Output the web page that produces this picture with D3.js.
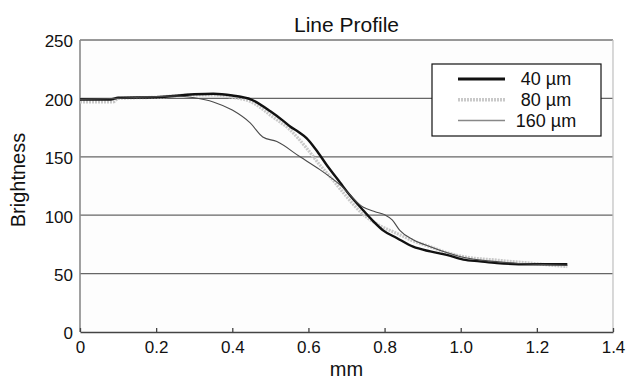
<!DOCTYPE html>
<html>
<head>
<meta charset="utf-8">
<script src="https://cdn.jsdelivr.net/npm/d3@7"></script>
<style>
  body { margin: 0; background: #fff; }
  text { font-family: "Liberation Sans", Arial, sans-serif; fill: #111; }
</style>
</head>
<body>
<div id="app"></div>
<script>
// values
var xTicks = [0, 0.2, 0.4, 0.6, 0.8, 1.0, 1.2, 1.4];
var xTickLabels = ["0", "0.2", "0.4", "0.6", "0.8", "1.0", "1.2", "1.4"];
var yTicks = [0, 50, 100, 150, 200, 250];

var mm40 = [0, 0.08, 0.1, 0.2, 0.3, 0.35, 0.4, 0.45, 0.5, 0.533, 0.552, 0.575, 0.595, 0.62, 0.648, 0.683, 0.709, 0.743, 0.77, 0.796, 0.832, 0.875, 0.92, 0.963, 1.007, 1.05, 1.095, 1.18, 1.28];
var bright40 = [199, 199, 200.5, 201, 203.5, 204, 202.5, 199, 189, 181, 176, 171, 166, 156, 143, 128, 117, 104.5, 95, 87, 80.5, 73, 69, 66, 62, 60.5, 59, 58, 58];

var mm80 = [0, 0.087, 0.1, 0.2, 0.3, 0.35, 0.4, 0.45, 0.507, 0.552, 0.595, 0.63, 0.657, 0.7, 0.743, 0.788, 0.832, 0.875, 0.92, 0.963, 1.007, 1.095, 1.18, 1.28];
var bright80 = [197, 197, 200, 201, 203, 203, 201, 197, 184, 173, 157.5, 143, 133, 116, 101, 91, 84.5, 78, 73, 68, 64.5, 61.5, 59, 56];

var mm160 = [0, 0.1, 0.2, 0.25, 0.3, 0.35, 0.4, 0.447, 0.48, 0.517, 0.578, 0.63, 0.683, 0.743, 0.775, 0.8, 0.82, 0.84, 0.875, 0.92, 0.963, 1.0, 1.1, 1.2, 1.28];
var bright160 = [199, 200, 201.5, 202, 200.5, 197, 190, 179, 167, 163, 150, 139, 126, 107, 103, 100.5, 96, 87, 79, 73, 68, 64.5, 60, 58, 57];

var seriesNames = ["40 \u00b5m", "80 \u00b5m", "160 \u00b5m"];

var margin = {top: 40, right: 13, bottom: 49, left: 80},
    width = 626 - margin.left - margin.right,
    height = 381 - margin.top - margin.bottom;

var x = d3.scaleLinear().domain([0, 1.4]).range([0, width]);
var y = d3.scaleLinear().domain([0, 250]).range([height, 0]);

var svg = d3.select("#app").append("svg")
    .attr("width", 626)
    .attr("height", 381);

var g = svg.append("g")
    .attr("transform", "translate(" + margin.left + "," + margin.top + ")");

g.append("rect")
    .attr("width", width)
    .attr("height", height)
    .attr("fill", "#fdfdfd");

// horizontal grid
g.append("g")
  .selectAll("line")
  .data(yTicks.filter(function(d) { return d > 0 && d < 250; }))
  .join("line")
    .attr("x1", 0)
    .attr("x2", width)
    .attr("y1", function(d) { return y(d); })
    .attr("y2", function(d) { return y(d); })
    .attr("stroke", "#666")
    .attr("stroke-width", 1.3);

// frame
g.append("line").attr("x1", 0).attr("x2", width).attr("y1", 0).attr("y2", 0)
    .attr("stroke", "#333").attr("stroke-width", 1);
g.append("line").attr("x1", width).attr("x2", width).attr("y1", 0).attr("y2", height)
    .attr("stroke", "#c4c4c4").attr("stroke-width", 1.3);
g.append("line").attr("x1", 0).attr("x2", 0).attr("y1", 0).attr("y2", height)
    .attr("stroke", "#8a8a8a").attr("stroke-width", 1.6);

// y axis labels
var yAxis = g.append("g")
    .call(d3.axisLeft(y).tickValues(yTicks).tickSize(0).tickPadding(7));
yAxis.select(".domain").remove();
yAxis.selectAll("text")
    .attr("font-size", 17)
    .attr("dy", "0.4em")
    .attr("font-family", "Liberation Sans, Arial, sans-serif");

// x axis
var xAxis = g.append("g")
    .attr("transform", "translate(0," + height + ")")
    .call(d3.axisBottom(x)
        .tickValues(xTicks)
        .tickSizeInner(-4)
        .tickSizeOuter(0)
        .tickPadding(9)
        .tickFormat(function(d, i) { return xTickLabels[i]; }));
xAxis.select(".domain").attr("stroke", "#444").attr("stroke-width", 1.3);
xAxis.selectAll(".tick line").attr("stroke", "#444").attr("stroke-width", 1.3);
xAxis.selectAll("text")
    .attr("font-size", 17)
    .attr("font-family", "Liberation Sans, Arial, sans-serif");

// lines
var line = d3.line()
    .x(function(d) { return x(d[0]); })
    .y(function(d) { return y(d[1]); })
    .curve(d3.curveMonotoneX);

var series = [
  {name: seriesNames[2], pts: d3.zip(mm160, bright160), stroke: "#4a4a4a", w: 1.1, dash: null},
  {name: seriesNames[1], pts: d3.zip(mm80, bright80), stroke: "#c9c9c9", w: 3.2, dash: "2,1"},
  {name: seriesNames[0], pts: d3.zip(mm40, bright40), stroke: "#111", w: 2.4, dash: null}
];

// draw 80 first underneath, then black, then thin on top
var order = [series[1], series[2], series[0]];
g.selectAll(".series")
  .data(order)
  .join("path")
    .attr("class", "series")
    .attr("d", function(d) { return line(d.pts); })
    .attr("fill", "none")
    .attr("stroke", function(d) { return d.stroke; })
    .attr("stroke-width", function(d) { return d.w; })
    .attr("stroke-dasharray", function(d) { return d.dash; })
    .attr("stroke-linejoin", "round");

// legend
var legend = svg.append("g").attr("transform", "translate(432,64)");
legend.append("rect")
    .attr("width", 169)
    .attr("height", 72)
    .attr("fill", "#fff")
    .attr("stroke", "#111")
    .attr("stroke-width", 1.2);

var legendItems = [series[2], series[1], series[0]];
var rows = legend.selectAll(".item")
  .data(legendItems)
  .join("g")
    .attr("class", "item")
    .attr("transform", function(d, i) { return "translate(0," + (15 + i * 20.8) + ")"; });
rows.append("line")
    .attr("x1", 26).attr("x2", 73)
    .attr("stroke", function(d, i) { return i === 2 ? "#888" : d.stroke; })
    .attr("stroke-width", function(d) { return d.w + 0.4; })
    .attr("stroke-dasharray", function(d) { return d.dash; });
rows.append("text")
    .attr("x", 114)
    .attr("dy", "0.36em")
    .attr("text-anchor", "middle")
    .attr("font-size", 18)
    .text(function(d) { return d.name; });

// titles
svg.append("text")
    .attr("x", margin.left + width / 2)
    .attr("y", 32)
    .attr("text-anchor", "middle")
    .attr("font-size", 21)
    .text("Line Profile");

svg.append("text")
    .attr("x", margin.left + width / 2)
    .attr("y", 376)
    .attr("text-anchor", "middle")
    .attr("font-size", 20)
    .text("mm");

svg.append("text")
    .attr("transform", "translate(25,180) rotate(-90)")
    .attr("text-anchor", "middle")
    .attr("font-size", 20)
    .text("Brightness");
</script>
</body>
</html>
